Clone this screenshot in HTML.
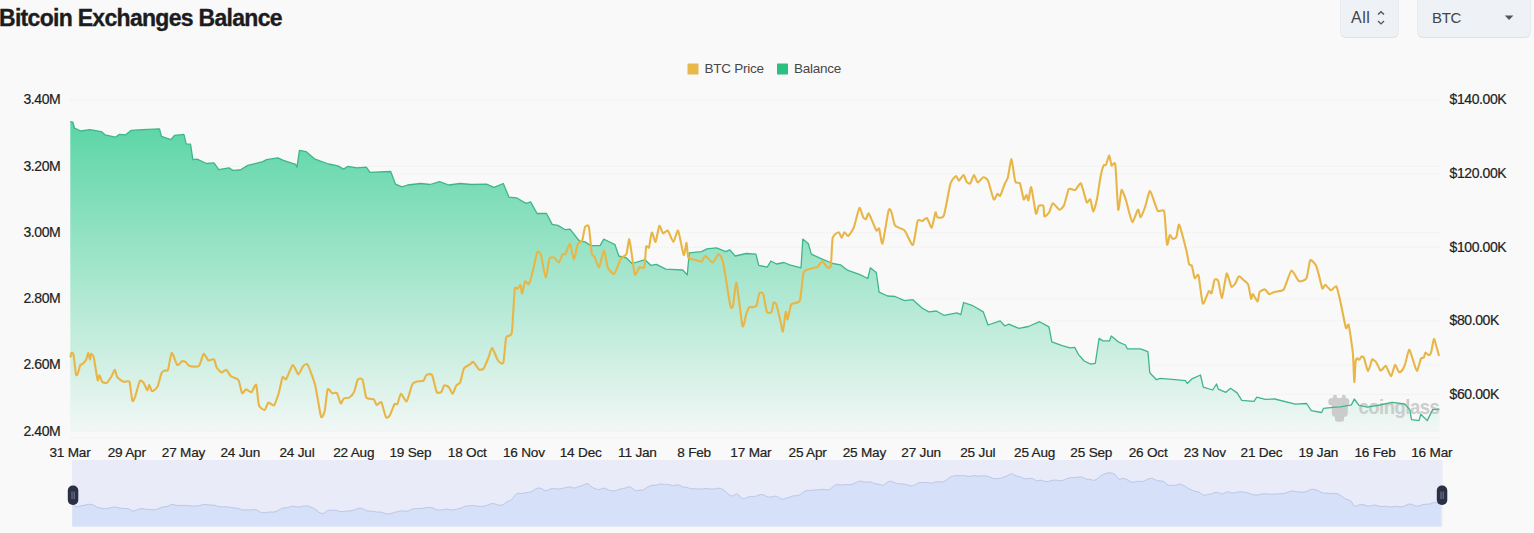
<!DOCTYPE html>
<html><head><meta charset="utf-8">
<style>
html,body{margin:0;padding:0;}
body{width:1534px;height:533px;overflow:hidden;background:#f9f9f9;position:relative;font-family:"Liberation Sans",sans-serif;}
.title{position:absolute;left:-1px;top:5px;font-weight:bold;font-size:23px;letter-spacing:-0.7px;color:#1c1c1e;white-space:nowrap;-webkit-text-stroke:0.35px #1c1c1e;}
.btn{position:absolute;top:-6px;height:43px;background:#eef1f5;border-radius:5px;box-shadow:0 1px 1px rgba(0,0,0,0.05),0 0 0 1px #eaecef;}
.btn span{position:absolute;font-size:16px;color:#444;}
svg{position:absolute;left:0;top:0;font-family:"Liberation Sans",sans-serif;}
.ax text{font-size:14px;letter-spacing:-0.4px;fill:#222;stroke:#222;stroke-width:0.2px;}
.xl text{font-size:13.6px;letter-spacing:-0.2px;fill:#222;stroke:#222;stroke-width:0.2px;text-anchor:middle;}
.lg text{font-size:13.5px;letter-spacing:-0.25px;fill:#474747;}
</style></head>
<body>
<div class="title">Bitcoin Exchanges Balance</div>
<div class="btn" style="left:1341px;width:57px;"><span style="left:10px;top:15px;letter-spacing:0.5px;">All</span>
<svg style="left:35px;top:16px;" width="10" height="16" viewBox="0 0 10 16"><path d="M2,4.6 L5,1.7 L8,4.6 M2,11 L5,13.9 L8,11" fill="none" stroke="#555" stroke-width="1.4"/></svg></div>
<div class="btn" style="left:1418px;width:112px;"><span style="left:14px;top:15px;font-size:15px;letter-spacing:-0.3px;">BTC</span>
<svg style="left:86px;top:21px;" width="10" height="6" viewBox="0 0 10 6"><path d="M0.8,0.6 L9.4,0.6 L5.1,5 Z" fill="#555"/></svg></div>
<svg width="1534" height="533" viewBox="0 0 1534 533" style="top:0">
<defs>
<linearGradient id="g1" x1="0" y1="121" x2="0" y2="431.5" gradientUnits="userSpaceOnUse">
<stop offset="0" stop-color="#5ad5a6"/>
<stop offset="1" stop-color="#f2f7f5"/>
</linearGradient>
</defs>
<g stroke="#f0f0f0" stroke-width="1" stroke-dasharray="2,1">
<line x1="70" y1="100.0" x2="1440" y2="100.0" />
<line x1="70" y1="166.3" x2="1440" y2="166.3" />
<line x1="70" y1="232.6" x2="1440" y2="232.6" />
<line x1="70" y1="298.9" x2="1440" y2="298.9" />
<line x1="70" y1="365.2" x2="1440" y2="365.2" />
<line x1="70" y1="173.6" x2="1440" y2="173.6" />
<line x1="70" y1="247.2" x2="1440" y2="247.2" />
<line x1="70" y1="320.8" x2="1440" y2="320.8" />
<line x1="70" y1="394.4" x2="1440" y2="394.4" />
<line x1="70" y1="431.5" x2="1440" y2="431.5" />
<line x1="70" y1="438" x2="1440" y2="438" />
</g>
<path d="M70.3,121.6 L72.8,122.2 L74.6,128.2 L80.7,131.0 L90.0,129.7 L101.3,131.6 L105.0,134.8 L115.4,137.2 L119.1,134.4 L125.7,134.8 L131.3,130.3 L142.6,129.7 L159.5,128.8 L161.4,136.3 L170.8,139.6 L174.5,135.3 L183.9,134.4 L186.2,143.8 L190.5,144.2 L192.9,159.7 L197.1,159.2 L206.5,163.5 L214.0,162.9 L218.7,169.7 L229.0,167.8 L232.7,170.4 L240.2,170.0 L247.8,165.4 L262.8,161.6 L266.5,159.7 L277.8,157.8 L283.4,160.3 L295.6,164.4 L297.0,167.2 L299.4,150.3 L306.0,151.6 L314.4,158.8 L328.5,164.0 L337.9,165.9 L343.5,169.1 L348.0,166.3 L356.9,167.8 L366.3,167.2 L370.0,172.3 L390.7,171.5 L395.4,184.1 L402.0,186.9 L407.6,185.0 L420.7,183.5 L430.1,184.5 L439.5,181.7 L448.9,185.0 L460.2,183.5 L471.4,184.5 L486.5,184.1 L494.0,187.3 L503.3,183.5 L509.0,197.2 L516.5,197.8 L525.9,203.4 L530.6,201.9 L537.1,213.5 L546.5,213.5 L552.2,224.4 L557.8,225.4 L565.3,229.7 L570.0,229.1 L579.4,241.0 L585.0,241.9 L590.7,245.6 L600.0,245.6 L603.8,239.1 L607.6,241.0 L615.0,244.7 L618.8,256.0 L626.3,257.8 L632.0,263.5 L645.1,259.7 L650.7,265.3 L656.4,264.4 L665.8,269.1 L682.7,270.0 L687.3,274.7 L689.2,252.8 L701.4,251.7 L707.0,248.8 L716.5,247.9 L725.8,251.7 L729.6,249.8 L735.2,256.0 L746.5,253.5 L755.9,254.1 L758.7,265.3 L767.2,267.2 L770.9,261.0 L776.5,264.0 L784.0,262.5 L789.7,264.8 L801.0,267.8 L802.8,239.1 L808.4,243.8 L811.3,254.1 L821.6,258.8 L832.9,263.5 L840.4,264.8 L847.9,270.4 L859.4,274.4 L867.8,278.5 L870.3,267.8 L876.3,272.5 L879.1,292.2 L887.6,296.0 L895.1,296.5 L904.5,300.7 L912.9,299.7 L922.3,308.2 L928.9,311.9 L936.4,311.0 L943.9,315.3 L957.0,312.9 L960.8,314.7 L963.6,302.5 L972.0,305.3 L983.3,311.9 L988.0,325.0 L1000.2,320.9 L1004.9,326.0 L1008.7,324.1 L1019.0,328.4 L1028.4,326.5 L1039.6,321.7 L1049.0,326.9 L1051.8,341.9 L1062.2,345.7 L1070.0,347.8 L1074.7,347.3 L1078.4,354.4 L1084.1,361.0 L1090.7,364.1 L1095.3,363.4 L1099.1,338.4 L1102.9,340.9 L1109.4,340.9 L1111.3,336.0 L1118.8,342.2 L1125.4,345.0 L1127.3,348.8 L1140.4,348.8 L1147.9,351.6 L1149.8,372.8 L1156.4,379.7 L1160.1,378.4 L1175.1,379.7 L1185.5,380.7 L1187.3,383.5 L1192.0,378.8 L1200.5,375.0 L1203.3,387.2 L1212.7,390.0 L1216.5,384.0 L1218.3,389.1 L1225.8,392.3 L1230.5,388.2 L1237.1,392.9 L1241.8,400.4 L1254.0,401.3 L1256.8,397.2 L1265.3,399.4 L1274.7,399.0 L1295.3,404.1 L1306.6,403.5 L1311.3,410.7 L1321.6,412.5 L1323.5,408.4 L1332.9,407.3 L1340.4,406.9 L1351.4,404.9 L1354.3,399.0 L1359.0,405.3 L1367.5,407.2 L1380.0,405.0 L1392.0,402.4 L1404.7,404.0 L1409.8,409.6 L1411.5,419.7 L1419.0,420.6 L1420.8,414.2 L1427.2,420.6 L1432.7,409.6 L1439.5,409.2 L1439.5,431.5 L70.3,431.5 Z" fill="url(#g1)"/>
<g fill="#c6c6c6" opacity="0.85">
<rect x="1333" y="394.8" width="4" height="6" rx="2"/>
<rect x="1341.8" y="394.8" width="4" height="6" rx="2"/>
<rect x="1328.3" y="398" width="21" height="7.5" rx="3.5"/>
<rect x="1331.8" y="403" width="16" height="14" rx="4"/>
<rect x="1335" y="414" width="9" height="7.8" rx="2.5"/>
<text x="1358.5" y="414.2" font-size="18.5" font-weight="bold" letter-spacing="-0.5" transform="translate(0,-52) scale(1,1.125)">coinglass</text>
</g>
<path d="M70.3,121.6 L72.8,122.2 L74.6,128.2 L80.7,131.0 L90.0,129.7 L101.3,131.6 L105.0,134.8 L115.4,137.2 L119.1,134.4 L125.7,134.8 L131.3,130.3 L142.6,129.7 L159.5,128.8 L161.4,136.3 L170.8,139.6 L174.5,135.3 L183.9,134.4 L186.2,143.8 L190.5,144.2 L192.9,159.7 L197.1,159.2 L206.5,163.5 L214.0,162.9 L218.7,169.7 L229.0,167.8 L232.7,170.4 L240.2,170.0 L247.8,165.4 L262.8,161.6 L266.5,159.7 L277.8,157.8 L283.4,160.3 L295.6,164.4 L297.0,167.2 L299.4,150.3 L306.0,151.6 L314.4,158.8 L328.5,164.0 L337.9,165.9 L343.5,169.1 L348.0,166.3 L356.9,167.8 L366.3,167.2 L370.0,172.3 L390.7,171.5 L395.4,184.1 L402.0,186.9 L407.6,185.0 L420.7,183.5 L430.1,184.5 L439.5,181.7 L448.9,185.0 L460.2,183.5 L471.4,184.5 L486.5,184.1 L494.0,187.3 L503.3,183.5 L509.0,197.2 L516.5,197.8 L525.9,203.4 L530.6,201.9 L537.1,213.5 L546.5,213.5 L552.2,224.4 L557.8,225.4 L565.3,229.7 L570.0,229.1 L579.4,241.0 L585.0,241.9 L590.7,245.6 L600.0,245.6 L603.8,239.1 L607.6,241.0 L615.0,244.7 L618.8,256.0 L626.3,257.8 L632.0,263.5 L645.1,259.7 L650.7,265.3 L656.4,264.4 L665.8,269.1 L682.7,270.0 L687.3,274.7 L689.2,252.8 L701.4,251.7 L707.0,248.8 L716.5,247.9 L725.8,251.7 L729.6,249.8 L735.2,256.0 L746.5,253.5 L755.9,254.1 L758.7,265.3 L767.2,267.2 L770.9,261.0 L776.5,264.0 L784.0,262.5 L789.7,264.8 L801.0,267.8 L802.8,239.1 L808.4,243.8 L811.3,254.1 L821.6,258.8 L832.9,263.5 L840.4,264.8 L847.9,270.4 L859.4,274.4 L867.8,278.5 L870.3,267.8 L876.3,272.5 L879.1,292.2 L887.6,296.0 L895.1,296.5 L904.5,300.7 L912.9,299.7 L922.3,308.2 L928.9,311.9 L936.4,311.0 L943.9,315.3 L957.0,312.9 L960.8,314.7 L963.6,302.5 L972.0,305.3 L983.3,311.9 L988.0,325.0 L1000.2,320.9 L1004.9,326.0 L1008.7,324.1 L1019.0,328.4 L1028.4,326.5 L1039.6,321.7 L1049.0,326.9 L1051.8,341.9 L1062.2,345.7 L1070.0,347.8 L1074.7,347.3 L1078.4,354.4 L1084.1,361.0 L1090.7,364.1 L1095.3,363.4 L1099.1,338.4 L1102.9,340.9 L1109.4,340.9 L1111.3,336.0 L1118.8,342.2 L1125.4,345.0 L1127.3,348.8 L1140.4,348.8 L1147.9,351.6 L1149.8,372.8 L1156.4,379.7 L1160.1,378.4 L1175.1,379.7 L1185.5,380.7 L1187.3,383.5 L1192.0,378.8 L1200.5,375.0 L1203.3,387.2 L1212.7,390.0 L1216.5,384.0 L1218.3,389.1 L1225.8,392.3 L1230.5,388.2 L1237.1,392.9 L1241.8,400.4 L1254.0,401.3 L1256.8,397.2 L1265.3,399.4 L1274.7,399.0 L1295.3,404.1 L1306.6,403.5 L1311.3,410.7 L1321.6,412.5 L1323.5,408.4 L1332.9,407.3 L1340.4,406.9 L1351.4,404.9 L1354.3,399.0 L1359.0,405.3 L1367.5,407.2 L1380.0,405.0 L1392.0,402.4 L1404.7,404.0 L1409.8,409.6 L1411.5,419.7 L1419.0,420.6 L1420.8,414.2 L1427.2,420.6 L1432.7,409.6 L1439.5,409.2" fill="none" stroke="#3fb68a" stroke-width="1.3" stroke-linejoin="round"/>
<path d="M70.3,357.5C70.4,357.0 71.3,353.1 71.6,352.8C71.9,352.5 73.1,352.5 73.5,354.7C73.9,356.9 75.6,372.5 76.0,374.4C76.4,376.3 77.4,374.4 77.8,373.5C78.2,372.6 79.8,365.9 80.3,365.0C80.8,364.1 81.9,364.7 82.5,364.1C83.1,363.5 85.7,360.5 86.3,359.4C86.9,358.3 87.8,352.8 88.2,352.8C88.6,352.8 89.7,359.3 90.0,359.4C90.3,359.5 90.6,354.0 91.0,353.8C91.4,353.6 93.1,354.9 93.8,357.5C94.5,360.1 97.0,378.2 97.6,380.0C98.2,381.8 98.9,375.1 99.4,375.3C99.9,375.5 101.5,381.1 102.2,381.9C103.0,382.6 106.0,383.4 106.9,382.8C107.8,382.2 110.8,377.6 111.6,376.3C112.4,375.0 114.2,369.6 114.8,369.7C115.4,369.8 116.4,376.0 117.3,377.2C118.2,378.4 122.6,381.4 123.8,381.9C125.0,382.4 128.7,380.0 129.5,381.9C130.3,383.8 131.7,399.2 132.3,400.7C132.9,402.2 134.3,398.9 135.1,396.9C135.8,394.9 139.0,382.4 139.8,381.0C140.7,379.6 142.8,381.9 143.6,382.8C144.3,383.7 146.7,390.1 147.3,390.3C147.9,390.5 148.7,384.6 149.2,384.7C149.7,384.8 151.2,391.1 152.0,391.3C152.8,391.5 156.7,388.4 157.6,386.6C158.5,384.8 160.7,375.1 161.4,373.5C162.1,371.9 163.5,371.0 164.2,370.6C164.9,370.2 167.2,371.5 168.0,369.7C168.8,367.9 170.8,353.3 171.7,352.8C172.6,352.3 176.3,364.1 177.3,365.0C178.3,365.9 181.2,361.6 182.0,361.3C182.8,361.0 185.0,361.7 185.8,362.2C186.6,362.7 188.3,365.6 189.6,366.0C190.9,366.4 197.5,367.2 198.9,366.0C200.3,364.8 202.7,354.4 203.6,353.8C204.5,353.2 207.3,359.7 208.3,360.3C209.3,360.9 213.2,358.6 214.0,359.4C214.8,360.1 216.1,366.5 216.8,367.8C217.6,369.1 220.6,372.3 221.5,372.5C222.4,372.7 225.3,369.3 226.2,369.7C227.1,370.1 229.7,375.3 230.9,376.3C232.1,377.3 237.3,378.3 238.4,380.0C239.5,381.7 241.3,392.3 242.1,393.2C242.8,394.1 245.0,389.5 245.9,389.4C246.8,389.3 250.5,392.7 251.5,392.2C252.5,391.7 255.4,383.4 256.2,384.7C256.9,386.0 258.1,402.9 259.0,405.4C259.9,407.9 263.8,410.3 264.7,410.0C265.6,409.7 267.5,403.0 268.4,402.5C269.3,402.0 273.0,406.3 274.0,405.4C275.0,404.5 277.8,396.0 278.7,393.2C279.6,390.4 281.8,378.6 282.5,377.2C283.2,375.8 285.2,380.3 286.2,379.1C287.2,377.9 291.6,365.5 292.8,365.0C294.0,364.5 297.4,374.3 298.4,374.4C299.4,374.5 302.3,366.9 303.2,366.0C304.1,365.1 306.6,363.0 307.8,365.0C309.0,367.0 314.0,380.5 315.3,385.7C316.6,390.9 320.1,414.1 321.0,416.6C321.9,419.1 324.0,413.7 324.7,411.0C325.4,408.3 326.9,391.2 327.6,389.4C328.4,387.6 331.3,392.8 332.2,393.2C333.1,393.6 336.1,392.2 337.0,393.2C337.9,394.2 340.0,403.0 340.7,403.5C341.4,404.0 342.9,399.1 343.8,398.5C344.7,397.9 348.4,398.2 349.4,397.5C350.4,396.8 353.3,393.7 354.1,391.9C354.9,390.1 357.0,380.9 357.8,379.7C358.6,378.5 361.6,377.9 362.5,379.7C363.4,381.5 365.2,395.5 366.3,397.5C367.4,399.5 372.8,398.6 373.8,399.4C374.8,400.1 375.9,404.7 376.6,405.0C377.4,405.3 380.4,401.0 381.3,402.2C382.2,403.4 385.1,415.9 386.0,417.2C386.9,418.5 388.9,416.7 389.8,415.4C390.7,414.1 393.8,405.2 394.5,404.1C395.2,403.0 396.7,405.1 397.3,404.1C397.9,403.1 400.1,394.1 401.0,393.8C401.9,393.5 405.6,402.2 406.7,401.3C407.8,400.4 411.3,386.4 412.3,384.4C413.3,382.4 415.9,382.0 417.0,381.6C418.1,381.2 422.7,381.4 423.6,380.7C424.5,380.0 425.6,375.6 426.4,375.0C427.2,374.4 431.0,373.3 432.0,375.0C433.0,376.7 435.8,390.2 436.7,391.9C437.6,393.6 440.6,392.6 441.4,391.9C442.1,391.2 443.4,385.8 444.2,385.3C444.9,384.8 448.0,386.3 448.9,387.2C449.8,388.1 451.9,394.0 452.7,393.8C453.4,393.6 455.6,386.4 456.4,385.3C457.1,384.2 459.4,384.2 460.2,382.5C460.9,380.8 463.0,370.3 463.9,368.5C464.8,366.7 468.7,365.4 469.6,364.7C470.5,364.0 472.4,361.4 473.3,361.9C474.2,362.4 477.9,368.7 478.9,369.4C479.9,370.1 482.7,369.6 483.6,368.5C484.5,367.4 487.4,360.2 488.3,358.1C489.2,356.0 491.2,347.6 492.1,347.8C493.0,348.0 496.6,358.5 497.7,360.0C498.8,361.5 502.4,365.1 503.3,362.8C504.2,360.6 505.3,340.5 506.2,337.5C507.1,334.5 510.9,337.6 511.8,332.8C512.6,328.0 514.1,294.1 514.7,289.7C515.3,285.3 517.0,289.3 517.6,288.8C518.2,288.3 519.9,284.5 520.4,285.0C520.9,285.5 521.7,293.9 522.2,293.5C522.7,293.1 524.4,282.2 525.1,281.3C525.8,280.4 528.0,285.0 528.8,284.1C529.5,283.2 531.8,275.1 532.6,271.9C533.5,268.7 536.5,253.9 537.3,252.2C538.1,250.5 540.2,252.5 541.0,255.0C541.8,257.5 544.9,277.1 545.7,277.5C546.6,277.9 548.6,260.8 549.5,258.8C550.4,256.8 553.3,257.4 554.2,257.8C555.1,258.2 558.1,262.9 558.9,262.5C559.7,262.1 562.0,254.9 562.6,254.1C563.2,253.3 564.6,255.1 565.4,254.1C566.1,253.1 569.2,243.2 570.1,243.8C571.0,244.4 573.1,259.6 573.9,259.7C574.6,259.8 576.8,246.7 577.6,244.7C578.4,242.7 581.5,241.8 582.3,240.0C583.0,238.2 584.4,228.2 585.1,226.9C585.8,225.6 588.2,224.3 588.9,226.9C589.6,229.5 591.1,250.1 591.7,253.1C592.3,256.1 593.8,255.5 594.5,256.9C595.2,258.3 598.3,267.9 599.2,267.2C600.1,266.5 603.0,250.3 603.9,250.3C604.8,250.3 606.7,264.8 607.7,267.2C608.7,269.6 612.9,274.6 614.2,273.8C615.5,273.0 619.6,260.8 620.8,258.8C622.0,256.8 625.5,256.1 626.4,254.1C627.2,252.1 628.7,238.8 629.3,239.1C629.9,239.4 631.5,253.3 632.1,256.9C632.7,260.5 634.1,273.7 634.9,274.7C635.6,275.7 638.7,267.9 639.6,267.2C640.5,266.4 643.6,269.3 644.3,267.2C645.0,265.1 645.7,248.6 646.2,246.6C646.7,244.6 648.4,248.9 649.0,247.5C649.6,246.1 651.1,233.1 651.8,232.5C652.5,231.9 654.9,242.6 655.6,241.9C656.4,241.2 658.5,226.8 659.3,225.9C660.0,225.1 662.2,232.9 663.1,233.4C664.0,233.9 666.8,229.8 667.8,230.6C668.8,231.4 672.4,241.9 673.4,241.9C674.4,241.9 677.1,229.3 678.1,230.6C679.1,231.9 682.9,253.8 683.7,255.0C684.5,256.2 686.0,242.5 686.5,242.8C687.0,243.1 687.5,256.1 688.4,257.8C689.2,259.5 693.7,259.3 695.0,259.7C696.3,260.1 700.5,262.0 701.5,261.6C702.5,261.2 704.2,255.9 705.3,256.0C706.4,256.1 711.5,262.7 712.8,262.5C714.1,262.3 717.5,254.1 718.5,254.1C719.5,254.1 721.9,257.4 723.1,262.5C724.3,267.6 729.3,301.1 730.3,305.4C731.3,309.7 732.5,307.7 733.1,305.4C733.7,303.1 735.6,280.7 736.5,282.8C737.4,284.9 741.5,322.9 742.5,326.0C743.5,329.1 745.6,315.7 746.3,313.8C747.0,311.9 748.4,307.9 749.1,307.2C749.8,306.5 752.1,307.4 752.9,307.2C753.6,307.0 756.0,306.8 756.6,305.4C757.2,304.0 758.7,294.3 759.4,293.2C760.1,292.1 762.5,292.2 763.2,294.1C764.0,296.0 766.1,310.1 766.9,311.9C767.7,313.7 770.9,312.8 771.6,311.9C772.3,311.0 773.0,303.2 773.5,302.5C774.0,301.8 775.6,302.7 776.3,304.4C777.0,306.1 779.4,316.7 780.1,319.4C780.8,322.1 782.3,332.4 782.9,331.6C783.5,330.9 785.2,313.1 785.7,311.9C786.2,310.7 787.0,320.1 787.6,319.4C788.2,318.6 790.1,306.3 791.3,304.4C792.5,302.5 798.6,303.9 799.8,300.7C801.0,297.5 802.6,275.7 803.6,272.5C804.6,269.3 808.7,269.4 810.1,268.8C811.5,268.2 816.4,267.6 817.6,266.9C818.8,266.1 821.4,261.3 822.3,261.3C823.2,261.3 826.1,266.4 827.0,266.9C827.9,267.4 830.2,268.9 830.8,266.0C831.4,263.1 831.9,241.2 832.7,237.8C833.5,234.4 837.9,232.2 838.8,232.2C839.7,232.2 841.0,237.9 841.6,237.9C842.2,237.9 843.7,232.4 844.4,232.2C845.1,232.0 847.3,236.5 848.2,236.0C849.1,235.5 852.7,230.4 853.8,227.6C854.9,224.8 858.5,208.9 859.4,207.9C860.3,206.9 862.5,216.1 863.2,217.2C863.9,218.3 865.4,219.5 866.0,219.1C866.6,218.7 867.8,212.4 868.8,213.5C869.8,214.6 875.3,228.9 876.3,230.4C877.3,231.9 878.5,227.2 879.1,228.5C879.7,229.8 881.6,245.3 882.5,243.5C883.4,241.7 887.6,213.9 888.5,210.7C889.4,207.5 890.6,210.1 891.3,211.6C892.0,213.1 893.8,223.8 895.1,225.7C896.4,227.6 902.7,228.5 904.5,230.4C906.3,232.3 911.6,245.9 912.9,245.0C914.2,244.1 916.7,223.4 917.6,221.0C918.5,218.6 921.4,221.3 922.3,221.0C923.2,220.7 926.1,217.5 927.0,218.2C927.9,218.9 930.9,228.2 931.7,227.6C932.6,227.0 934.9,213.5 935.5,212.5C936.1,211.5 936.5,216.9 937.3,217.2C938.1,217.5 942.6,218.8 943.9,215.4C945.2,212.0 949.3,187.4 950.5,183.5C951.7,179.6 955.3,176.3 956.1,176.0C956.9,175.7 958.1,180.7 958.9,180.6C959.6,180.5 962.8,174.9 963.6,175.0C964.4,175.1 965.8,180.8 966.5,181.6C967.2,182.4 969.5,184.2 970.2,183.5C971.0,182.8 973.2,175.1 974.0,175.0C974.8,174.9 976.8,182.3 977.7,182.5C978.6,182.7 982.3,177.5 983.3,177.3C984.3,177.1 987.0,178.4 988.0,180.6C989.0,182.8 992.8,198.1 993.7,199.4C994.6,200.7 996.8,194.2 997.4,193.8C998.0,193.4 999.5,196.7 1000.2,195.7C1001.0,194.7 1004.1,185.3 1004.9,183.5C1005.7,181.7 1007.1,180.2 1007.8,177.8C1008.5,175.4 1010.8,158.7 1011.5,159.1C1012.2,159.5 1014.4,179.2 1015.3,181.6C1016.1,184.0 1019.2,181.7 1020.0,183.5C1020.8,185.3 1023.1,198.3 1023.7,199.4C1024.4,200.5 1026.0,194.6 1026.5,194.7C1027.0,194.8 1027.9,201.1 1028.4,200.3C1028.9,199.6 1030.5,185.9 1031.2,187.2C1032.0,188.5 1035.2,211.6 1035.9,213.5C1036.7,215.4 1038.0,206.8 1038.7,206.0C1039.5,205.2 1042.8,205.0 1043.4,206.0C1044.0,207.0 1043.8,215.7 1044.4,216.3C1045.0,217.0 1048.3,213.8 1049.1,212.5C1049.9,211.2 1051.8,203.5 1052.8,203.2C1053.8,202.9 1058.3,209.5 1059.4,209.7C1060.5,209.9 1063.2,207.1 1064.1,205.0C1065.0,202.9 1067.7,190.6 1068.8,189.1C1069.9,187.6 1074.1,190.6 1075.3,190.0C1076.5,189.4 1079.9,182.3 1081.0,183.5C1082.1,184.7 1085.7,200.6 1086.6,202.2C1087.5,203.8 1089.7,198.5 1090.4,199.4C1091.1,200.3 1092.5,211.6 1093.2,211.6C1093.9,211.6 1096.2,203.0 1096.9,199.4C1097.7,195.8 1100.0,179.4 1100.7,176.0C1101.4,172.6 1103.0,166.7 1103.5,165.6C1104.0,164.5 1105.4,165.7 1106.0,164.7C1106.6,163.7 1108.6,155.2 1109.2,155.3C1109.8,155.4 1111.0,164.7 1111.6,165.6C1112.2,166.5 1114.6,160.3 1115.3,164.7C1116.0,169.1 1117.6,207.2 1118.2,209.7C1118.8,212.2 1120.8,191.0 1121.5,190.0C1122.2,189.0 1124.6,196.2 1125.7,199.4C1126.8,202.6 1131.0,220.9 1132.2,221.9C1133.4,222.9 1137.1,210.2 1137.9,209.7C1138.8,209.2 1140.0,217.6 1140.7,217.2C1141.5,216.8 1144.5,208.6 1145.4,206.0C1146.3,203.4 1148.9,190.5 1150.1,191.0C1151.3,191.5 1156.2,208.6 1157.6,210.7C1159.0,212.8 1163.3,208.2 1164.2,211.6C1165.1,215.0 1166.4,242.1 1167.0,244.4C1167.6,246.8 1169.2,235.7 1169.8,235.1C1170.4,234.5 1171.9,238.6 1172.6,238.8C1173.3,239.0 1175.7,238.3 1176.4,236.9C1177.1,235.5 1178.2,223.4 1179.2,224.7C1180.2,226.0 1185.3,246.1 1186.3,250.0C1187.3,253.9 1188.5,262.5 1189.1,264.1C1189.7,265.7 1191.3,264.6 1191.9,266.0C1192.5,267.4 1194.0,277.3 1194.7,278.2C1195.4,279.1 1197.7,272.8 1198.5,275.3C1199.3,277.8 1201.8,301.9 1202.8,303.5C1203.8,305.1 1207.9,292.3 1208.8,291.3C1209.7,290.3 1211.0,294.3 1211.6,293.2C1212.2,292.1 1213.8,281.2 1214.5,280.0C1215.2,278.8 1217.5,279.2 1218.2,281.0C1219.0,282.8 1221.2,298.6 1222.0,297.9C1222.8,297.1 1225.8,274.6 1226.7,273.5C1227.6,272.4 1230.5,285.6 1231.3,286.6C1232.1,287.6 1234.3,284.8 1235.1,283.8C1235.9,282.8 1238.1,276.7 1238.9,276.3C1239.8,275.9 1242.7,279.2 1243.6,280.0C1244.5,280.8 1247.5,282.8 1248.2,284.7C1249.0,286.6 1250.6,297.9 1251.1,298.8C1251.6,299.7 1252.2,293.8 1252.9,294.1C1253.6,294.4 1256.9,301.8 1257.6,301.6C1258.3,301.4 1258.8,293.4 1259.5,292.2C1260.2,291.0 1264.2,289.2 1265.1,289.4C1266.0,289.6 1268.1,293.8 1268.9,294.1C1269.8,294.4 1272.7,292.5 1273.6,292.2C1274.5,291.9 1277.3,291.6 1278.3,291.3C1279.3,291.0 1282.6,291.5 1283.9,289.4C1285.2,287.3 1289.9,271.4 1291.4,270.6C1292.9,269.8 1297.4,280.2 1298.9,281.0C1300.4,281.8 1305.4,280.3 1306.5,278.2C1307.6,276.1 1309.3,261.6 1310.2,260.3C1311.1,259.0 1315.0,263.6 1315.8,265.0C1316.6,266.4 1318.0,272.0 1318.7,274.4C1319.4,276.8 1321.8,287.5 1322.4,288.5C1323.1,289.5 1324.4,284.5 1325.2,284.7C1326.0,284.9 1329.8,290.1 1330.9,290.3C1332.0,290.5 1335.5,285.1 1336.5,286.6C1337.5,288.1 1340.3,301.3 1341.2,305.4C1342.1,309.5 1345.2,325.9 1345.9,327.9C1346.7,329.9 1348.0,322.5 1348.7,325.0C1349.4,327.5 1352.2,346.8 1352.8,352.5C1353.4,358.2 1354.0,380.9 1354.3,381.8C1354.6,382.7 1355.3,363.9 1355.6,361.5C1355.9,359.1 1357.0,358.4 1357.3,358.2C1357.6,358.0 1358.5,360.0 1359.0,359.8C1359.5,359.6 1361.3,356.7 1361.8,356.5C1362.3,356.3 1363.5,356.7 1364.1,358.2C1364.7,359.7 1367.2,370.9 1368.0,371.1C1368.8,371.3 1371.4,360.9 1372.0,359.8C1372.6,358.7 1373.8,360.1 1374.2,360.4C1374.7,360.7 1375.9,361.7 1376.5,362.7C1377.1,363.7 1379.8,369.9 1380.4,370.5C1381.0,371.1 1382.1,369.3 1382.7,368.9C1383.3,368.4 1385.2,365.3 1386.0,366.0C1386.8,366.7 1390.2,376.3 1391.1,376.2C1392.0,376.1 1394.2,365.3 1395.0,364.9C1395.8,364.5 1398.3,371.7 1399.0,372.2C1399.7,372.7 1401.8,370.8 1402.4,370.0C1403.0,369.2 1404.5,365.8 1405.2,363.8C1405.9,361.8 1408.3,350.0 1409.1,349.7C1409.9,349.4 1412.3,358.3 1413.1,360.4C1413.9,362.5 1416.2,371.3 1417.0,371.1C1417.8,370.9 1420.2,360.1 1420.9,358.7C1421.6,357.3 1423.3,358.2 1423.8,357.6C1424.3,357.0 1425.0,352.7 1425.5,352.5C1426.0,352.3 1428.2,355.3 1428.8,355.3C1429.4,355.3 1430.6,354.1 1431.1,352.5C1431.6,350.9 1433.3,339.5 1433.9,339.0C1434.5,338.5 1436.2,345.8 1436.7,347.5C1437.2,349.2 1438.8,355.1 1439.0,355.9" fill="none" stroke="#e8b547" stroke-width="2.1" stroke-linejoin="round"/>
<g class="ax">
<text x="60.4" y="104.2" text-anchor="end">3.40M</text>
<text x="60.4" y="170.5" text-anchor="end">3.20M</text>
<text x="60.4" y="236.8" text-anchor="end">3.00M</text>
<text x="60.4" y="303.1" text-anchor="end">2.80M</text>
<text x="60.4" y="369.4" text-anchor="end">2.60M</text>
<text x="60.4" y="435.7" text-anchor="end">2.40M</text>
<text x="1449.5" y="104.3">$140.00K</text>
<text x="1449.5" y="177.9">$120.00K</text>
<text x="1449.5" y="251.5">$100.00K</text>
<text x="1449.5" y="325.1">$80.00K</text>
<text x="1449.5" y="398.7">$60.00K</text>
</g>
<g class="xl">
<text x="70.0" y="457">31 Mar</text>
<text x="126.7" y="457">29 Apr</text>
<text x="183.5" y="457">27 May</text>
<text x="240.2" y="457">24 Jun</text>
<text x="297.0" y="457">24 Jul</text>
<text x="353.7" y="457">22 Aug</text>
<text x="410.4" y="457">19 Sep</text>
<text x="467.2" y="457">18 Oct</text>
<text x="523.9" y="457">16 Nov</text>
<text x="580.7" y="457">14 Dec</text>
<text x="637.4" y="457">11 Jan</text>
<text x="694.1" y="457">8 Feb</text>
<text x="750.9" y="457">17 Mar</text>
<text x="807.6" y="457">25 Apr</text>
<text x="864.4" y="457">25 May</text>
<text x="921.1" y="457">27 Jun</text>
<text x="977.8" y="457">25 Jul</text>
<text x="1034.6" y="457">25 Aug</text>
<text x="1091.3" y="457">25 Sep</text>
<text x="1148.1" y="457">26 Oct</text>
<text x="1204.8" y="457">23 Nov</text>
<text x="1261.5" y="457">21 Dec</text>
<text x="1318.3" y="457">19 Jan</text>
<text x="1375.0" y="457">16 Feb</text>
<text x="1431.8" y="457">16 Mar</text>
</g>
<g class="lg">
<rect x="687.5" y="63.5" width="11" height="11" rx="0.6" fill="#e9b84a"/>
<text x="704.5" y="72.7">BTC Price</text>
<rect x="777" y="63.5" width="11" height="11" rx="0.6" fill="#2dbf7f"/>
<text x="794" y="72.7">Balance</text>
</g>
<rect x="72" y="460.0" width="1370.5" height="66.5" fill="#e9ecf8"/>
<path d="M72.3,504.4 L74.3,505.4 L76.3,506.7 L78.3,506.7 L80.3,506.0 L82.3,505.6 L84.3,505.3 L86.3,504.8 L88.3,504.3 L90.3,504.4 L92.3,504.6 L94.3,505.4 L96.3,506.7 L98.3,507.7 L100.3,508.0 L102.3,508.4 L104.3,508.6 L106.3,508.6 L108.3,508.3 L110.3,507.9 L112.3,507.4 L114.3,507.0 L116.3,507.3 L118.3,507.8 L120.3,508.1 L122.3,508.3 L124.3,508.5 L126.3,508.5 L128.3,508.7 L130.3,509.7 L132.3,510.9 L134.3,511.0 L136.3,510.2 L138.3,509.3 L140.3,508.7 L142.3,508.6 L144.3,509.0 L146.3,509.4 L148.3,509.4 L150.3,509.5 L152.3,509.8 L154.3,509.7 L156.3,509.4 L158.3,508.8 L160.3,507.9 L162.3,507.1 L164.3,506.8 L166.3,506.6 L168.3,506.0 L170.3,505.0 L172.3,504.4 L174.3,504.8 L176.3,505.3 L178.3,505.6 L180.3,505.4 L182.3,505.3 L184.3,505.3 L186.3,505.5 L188.3,505.7 L190.3,505.9 L192.3,506.0 L194.3,506.0 L196.3,506.0 L198.3,505.8 L200.3,505.3 L202.3,504.7 L204.3,504.4 L206.3,504.6 L208.3,504.9 L210.4,505.0 L212.4,505.0 L214.4,505.3 L216.4,505.9 L218.4,506.5 L220.4,506.8 L222.4,506.9 L224.4,506.8 L226.4,506.7 L228.4,507.0 L230.4,507.4 L232.4,507.7 L234.4,507.9 L236.4,508.1 L238.4,508.4 L240.4,509.3 L242.4,510.0 L244.4,510.0 L246.4,509.9 L248.4,509.9 L250.4,510.0 L252.4,509.9 L254.4,509.5 L256.4,509.8 L258.4,511.1 L260.4,512.3 L262.4,512.7 L264.4,512.8 L266.4,512.5 L268.4,512.1 L270.4,512.0 L272.4,512.1 L274.4,512.0 L276.4,511.3 L278.4,510.4 L280.4,509.2 L282.4,508.2 L284.4,507.9 L286.4,507.8 L288.4,507.4 L290.4,506.7 L292.4,506.2 L294.4,506.3 L296.4,506.8 L298.4,507.0 L300.4,506.8 L302.4,506.3 L304.4,506.0 L306.4,505.9 L308.4,506.2 L310.4,506.9 L312.4,507.8 L314.4,508.8 L316.4,510.1 L318.4,511.8 L320.4,513.1 L322.4,513.6 L324.4,512.9 L326.4,511.4 L328.4,510.3 L330.4,510.1 L332.4,510.3 L334.4,510.3 L336.4,510.5 L338.4,511.0 L340.4,511.5 L342.4,511.5 L344.4,511.3 L346.4,511.1 L348.4,511.0 L350.4,510.8 L352.4,510.5 L354.4,509.9 L356.4,509.0 L358.4,508.4 L360.4,508.2 L362.4,508.5 L364.4,509.6 L366.4,510.7 L368.4,511.1 L370.4,511.2 L372.4,511.3 L374.4,511.6 L376.4,512.0 L378.4,512.1 L380.4,512.0 L382.4,512.5 L384.4,513.3 L386.4,513.9 L388.4,514.0 L390.4,513.6 L392.4,513.0 L394.4,512.4 L396.4,512.0 L398.4,511.5 L400.4,511.0 L402.4,510.8 L404.4,511.1 L406.4,511.3 L408.4,510.8 L410.4,509.9 L412.4,509.1 L414.4,508.7 L416.4,508.6 L418.4,508.5 L420.4,508.4 L422.4,508.3 L424.4,508.0 L426.4,507.6 L428.4,507.4 L430.4,507.5 L432.4,507.8 L434.4,508.7 L436.4,509.7 L438.4,510.1 L440.4,510.1 L442.4,509.7 L444.4,509.3 L446.4,509.2 L448.4,509.4 L450.4,509.8 L452.4,510.1 L454.4,509.8 L456.4,509.2 L458.4,508.8 L460.4,508.3 L462.4,507.4 L464.4,506.5 L466.4,506.1 L468.4,505.9 L470.4,505.7 L472.4,505.5 L474.4,505.6 L476.4,506.0 L478.4,506.3 L480.4,506.4 L482.4,506.4 L484.5,506.0 L486.5,505.4 L488.5,504.7 L490.5,503.9 L492.5,503.5 L494.5,503.8 L496.5,504.5 L498.5,505.0 L500.5,505.2 L502.5,505.0 L504.5,503.7 L506.5,502.0 L508.5,501.1 L510.5,500.5 L512.5,498.6 L514.5,495.6 L516.5,493.8 L518.5,493.3 L520.5,493.4 L522.5,493.6 L524.5,493.1 L526.5,492.6 L528.5,492.5 L530.5,491.9 L532.5,490.9 L534.5,489.7 L536.5,488.5 L538.5,488.0 L540.5,488.2 L542.5,489.2 L544.5,490.4 L546.5,490.7 L548.5,489.8 L550.5,488.9 L552.5,488.6 L554.5,488.7 L556.5,488.9 L558.5,489.0 L560.5,488.7 L562.5,488.2 L564.5,487.9 L566.5,487.5 L568.5,487.0 L570.5,486.9 L572.5,487.6 L574.5,488.1 L576.5,487.4 L578.5,486.5 L580.5,486.0 L582.5,485.4 L584.5,484.4 L586.5,483.7 L588.5,484.1 L590.5,485.7 L592.5,487.5 L594.5,488.4 L596.5,489.0 L598.5,489.5 L600.5,489.2 L602.5,488.4 L604.5,488.1 L606.5,489.0 L608.5,490.0 L610.5,490.5 L612.5,490.8 L614.5,490.8 L616.5,490.4 L618.5,489.6 L620.5,489.0 L622.5,488.5 L624.5,488.2 L626.5,487.6 L628.5,486.8 L630.5,487.0 L632.5,488.6 L634.5,490.2 L636.5,490.7 L638.5,490.4 L640.5,490.1 L642.5,490.1 L644.5,489.2 L646.5,487.6 L648.5,486.6 L650.5,485.8 L652.5,485.1 L654.5,485.3 L656.5,485.1 L658.5,484.4 L660.5,484.0 L662.5,484.2 L664.5,484.4 L666.5,484.4 L668.5,484.5 L670.5,485.0 L672.5,485.5 L674.5,485.4 L676.5,484.9 L678.5,484.8 L680.5,485.7 L682.5,486.9 L684.5,487.2 L686.5,487.2 L688.5,487.9 L690.5,488.6 L692.5,488.7 L694.5,488.8 L696.5,488.9 L698.5,489.0 L700.5,489.0 L702.5,488.9 L704.5,488.6 L706.5,488.5 L708.5,488.7 L710.5,489.0 L712.5,489.1 L714.5,488.9 L716.5,488.5 L718.5,488.2 L720.5,488.5 L722.5,489.3 L724.5,490.6 L726.5,492.4 L728.5,494.3 L730.5,495.7 L732.5,495.9 L734.5,494.7 L736.5,493.8 L738.5,494.8 L740.5,497.0 L742.5,498.5 L744.5,498.5 L746.5,497.6 L748.5,496.9 L750.5,496.6 L752.5,496.5 L754.5,496.4 L756.5,496.0 L758.6,495.1 L760.6,494.5 L762.6,494.6 L764.6,495.4 L766.6,496.5 L768.6,497.1 L770.6,497.1 L772.6,496.6 L774.6,496.1 L776.6,496.3 L778.6,497.3 L780.6,498.6 L782.6,499.4 L784.6,498.8 L786.6,498.0 L788.6,497.6 L790.6,496.8 L792.6,496.1 L794.6,495.8 L796.6,495.7 L798.6,495.4 L800.6,494.4 L802.6,492.7 L804.6,491.2 L806.6,490.7 L808.6,490.5 L810.6,490.3 L812.6,490.2 L814.6,490.1 L816.6,490.0 L818.6,489.8 L820.6,489.5 L822.6,489.3 L824.6,489.5 L826.6,489.8 L828.6,489.9 L830.6,489.0 L832.6,486.9 L834.6,485.3 L836.6,484.8 L838.6,484.7 L840.6,484.9 L842.6,484.9 L844.6,484.7 L846.6,484.7 L848.6,484.8 L850.6,484.5 L852.6,484.0 L854.6,483.3 L856.6,482.3 L858.6,481.4 L860.6,481.1 L862.6,481.6 L864.6,482.0 L866.6,482.0 L868.6,481.8 L870.6,482.0 L872.6,482.7 L874.6,483.4 L876.6,483.9 L878.6,484.2 L880.6,484.8 L882.6,485.4 L884.6,484.6 L886.6,482.9 L888.6,481.6 L890.6,481.2 L892.6,481.8 L894.6,482.7 L896.6,483.4 L898.6,483.6 L900.6,483.8 L902.6,484.0 L904.6,484.2 L906.6,484.6 L908.6,485.2 L910.6,485.8 L912.6,485.9 L914.6,485.2 L916.6,483.8 L918.6,482.9 L920.6,482.6 L922.6,482.6 L924.6,482.4 L926.6,482.4 L928.6,482.7 L930.6,483.1 L932.6,483.0 L934.6,482.2 L936.6,481.8 L938.6,481.8 L940.6,481.9 L942.6,481.7 L944.6,481.1 L946.6,479.9 L948.6,478.3 L950.6,477.0 L952.6,476.2 L954.6,475.8 L956.6,475.6 L958.6,475.8 L960.6,475.8 L962.6,475.6 L964.6,475.7 L966.6,476.1 L968.6,476.4 L970.6,476.3 L972.6,475.9 L974.6,475.6 L976.6,475.9 L978.6,476.2 L980.6,476.0 L982.6,475.8 L984.6,475.8 L986.6,476.0 L988.6,476.5 L990.6,477.3 L992.6,478.3 L994.6,478.7 L996.6,478.6 L998.6,478.4 L1000.6,478.3 L1002.6,477.7 L1004.6,476.9 L1006.6,476.1 L1008.6,475.1 L1010.6,474.0 L1012.6,473.9 L1014.6,475.1 L1016.6,476.1 L1018.6,476.5 L1020.6,477.1 L1022.6,478.0 L1024.6,478.6 L1026.6,478.8 L1028.6,478.7 L1030.6,478.3 L1032.7,478.5 L1034.7,479.8 L1036.7,480.7 L1038.7,480.6 L1040.7,480.2 L1042.7,480.6 L1044.7,481.3 L1046.7,481.6 L1048.7,481.3 L1050.7,480.7 L1052.7,480.2 L1054.7,480.1 L1056.7,480.3 L1058.7,480.6 L1060.7,480.6 L1062.7,480.3 L1064.7,479.8 L1066.7,478.8 L1068.7,478.0 L1070.7,477.6 L1072.7,477.6 L1074.7,477.6 L1076.7,477.4 L1078.7,477.1 L1080.7,476.9 L1082.7,477.4 L1084.7,478.4 L1086.7,479.2 L1088.7,479.3 L1090.7,479.5 L1092.7,480.2 L1094.7,480.2 L1096.7,479.3 L1098.7,477.7 L1100.7,475.9 L1102.7,474.6 L1104.7,473.8 L1106.7,473.2 L1108.7,472.8 L1110.7,472.9 L1112.7,473.4 L1114.7,474.2 L1116.7,476.6 L1118.7,479.1 L1120.7,479.0 L1122.7,478.3 L1124.7,478.7 L1126.7,479.5 L1128.7,480.6 L1130.7,481.7 L1132.7,482.3 L1134.7,482.0 L1136.7,481.4 L1138.7,481.3 L1140.7,481.5 L1142.7,481.3 L1144.7,480.6 L1146.7,479.7 L1148.7,478.8 L1150.7,478.3 L1152.7,478.7 L1154.7,479.6 L1156.7,480.3 L1158.7,480.8 L1160.7,481.0 L1162.7,481.1 L1164.7,482.2 L1166.7,484.3 L1168.7,485.4 L1170.7,485.3 L1172.7,485.3 L1174.7,485.3 L1176.7,484.9 L1178.7,484.2 L1180.7,484.1 L1182.7,485.0 L1184.7,486.1 L1186.7,487.4 L1188.7,488.7 L1190.7,489.6 L1192.7,490.4 L1194.7,491.2 L1196.7,491.6 L1198.7,491.9 L1200.7,493.3 L1202.7,494.9 L1204.7,495.2 L1206.7,494.8 L1208.7,494.3 L1210.7,494.0 L1212.7,493.5 L1214.7,492.6 L1216.7,492.3 L1218.7,492.7 L1220.7,493.7 L1222.7,494.1 L1224.7,493.1 L1226.7,491.9 L1228.7,491.9 L1230.7,492.6 L1232.7,492.9 L1234.7,492.8 L1236.7,492.3 L1238.7,491.9 L1240.7,491.8 L1242.7,492.0 L1244.7,492.2 L1246.7,492.6 L1248.7,493.2 L1250.7,494.2 L1252.7,494.6 L1254.7,494.9 L1256.7,495.1 L1258.7,494.8 L1260.7,494.2 L1262.7,493.9 L1264.7,493.8 L1266.7,493.9 L1268.7,494.2 L1270.7,494.3 L1272.7,494.2 L1274.7,494.1 L1276.7,494.0 L1278.7,493.9 L1280.7,493.8 L1282.7,493.7 L1284.7,493.3 L1286.7,492.7 L1288.7,491.9 L1290.7,491.2 L1292.7,491.0 L1294.7,491.3 L1296.7,491.7 L1298.7,492.0 L1300.7,492.2 L1302.7,492.1 L1304.7,492.0 L1306.8,491.5 L1308.8,490.4 L1310.8,489.4 L1312.8,489.2 L1314.8,489.6 L1316.8,490.1 L1318.8,491.0 L1320.8,492.2 L1322.8,493.0 L1324.8,493.2 L1326.8,493.1 L1328.8,493.4 L1330.8,493.6 L1332.8,493.6 L1334.8,493.4 L1336.8,493.5 L1338.8,494.4 L1340.8,495.7 L1342.8,497.1 L1344.8,498.5 L1346.8,499.4 L1348.8,499.9 L1350.8,501.2 L1352.8,504.0 L1354.8,506.3 L1356.8,505.9 L1358.8,504.9 L1360.8,504.7 L1362.8,504.6 L1364.8,505.0 L1366.8,505.8 L1368.8,506.2 L1370.8,505.8 L1372.8,505.2 L1374.8,505.1 L1376.8,505.5 L1378.8,506.0 L1380.8,506.5 L1382.8,506.5 L1384.8,506.2 L1386.8,506.3 L1388.8,506.7 L1390.8,507.1 L1392.8,506.9 L1394.8,506.4 L1396.8,506.3 L1398.8,506.6 L1400.8,506.8 L1402.8,506.5 L1404.8,505.9 L1406.8,504.9 L1408.8,504.1 L1410.8,504.1 L1412.8,504.7 L1414.8,505.6 L1416.8,506.2 L1418.8,506.0 L1420.8,505.3 L1422.8,504.7 L1424.8,504.3 L1426.8,504.1 L1428.8,504.1 L1430.8,503.7 L1432.8,502.9 L1434.8,502.3 L1436.8,502.8 L1438.8,503.6 L1440.8,503.9 L1440.8,526.5 L72.3,526.5 Z" fill="#d6e0f8"/>
<path d="M72.3,504.4 L74.3,505.4 L76.3,506.7 L78.3,506.7 L80.3,506.0 L82.3,505.6 L84.3,505.3 L86.3,504.8 L88.3,504.3 L90.3,504.4 L92.3,504.6 L94.3,505.4 L96.3,506.7 L98.3,507.7 L100.3,508.0 L102.3,508.4 L104.3,508.6 L106.3,508.6 L108.3,508.3 L110.3,507.9 L112.3,507.4 L114.3,507.0 L116.3,507.3 L118.3,507.8 L120.3,508.1 L122.3,508.3 L124.3,508.5 L126.3,508.5 L128.3,508.7 L130.3,509.7 L132.3,510.9 L134.3,511.0 L136.3,510.2 L138.3,509.3 L140.3,508.7 L142.3,508.6 L144.3,509.0 L146.3,509.4 L148.3,509.4 L150.3,509.5 L152.3,509.8 L154.3,509.7 L156.3,509.4 L158.3,508.8 L160.3,507.9 L162.3,507.1 L164.3,506.8 L166.3,506.6 L168.3,506.0 L170.3,505.0 L172.3,504.4 L174.3,504.8 L176.3,505.3 L178.3,505.6 L180.3,505.4 L182.3,505.3 L184.3,505.3 L186.3,505.5 L188.3,505.7 L190.3,505.9 L192.3,506.0 L194.3,506.0 L196.3,506.0 L198.3,505.8 L200.3,505.3 L202.3,504.7 L204.3,504.4 L206.3,504.6 L208.3,504.9 L210.4,505.0 L212.4,505.0 L214.4,505.3 L216.4,505.9 L218.4,506.5 L220.4,506.8 L222.4,506.9 L224.4,506.8 L226.4,506.7 L228.4,507.0 L230.4,507.4 L232.4,507.7 L234.4,507.9 L236.4,508.1 L238.4,508.4 L240.4,509.3 L242.4,510.0 L244.4,510.0 L246.4,509.9 L248.4,509.9 L250.4,510.0 L252.4,509.9 L254.4,509.5 L256.4,509.8 L258.4,511.1 L260.4,512.3 L262.4,512.7 L264.4,512.8 L266.4,512.5 L268.4,512.1 L270.4,512.0 L272.4,512.1 L274.4,512.0 L276.4,511.3 L278.4,510.4 L280.4,509.2 L282.4,508.2 L284.4,507.9 L286.4,507.8 L288.4,507.4 L290.4,506.7 L292.4,506.2 L294.4,506.3 L296.4,506.8 L298.4,507.0 L300.4,506.8 L302.4,506.3 L304.4,506.0 L306.4,505.9 L308.4,506.2 L310.4,506.9 L312.4,507.8 L314.4,508.8 L316.4,510.1 L318.4,511.8 L320.4,513.1 L322.4,513.6 L324.4,512.9 L326.4,511.4 L328.4,510.3 L330.4,510.1 L332.4,510.3 L334.4,510.3 L336.4,510.5 L338.4,511.0 L340.4,511.5 L342.4,511.5 L344.4,511.3 L346.4,511.1 L348.4,511.0 L350.4,510.8 L352.4,510.5 L354.4,509.9 L356.4,509.0 L358.4,508.4 L360.4,508.2 L362.4,508.5 L364.4,509.6 L366.4,510.7 L368.4,511.1 L370.4,511.2 L372.4,511.3 L374.4,511.6 L376.4,512.0 L378.4,512.1 L380.4,512.0 L382.4,512.5 L384.4,513.3 L386.4,513.9 L388.4,514.0 L390.4,513.6 L392.4,513.0 L394.4,512.4 L396.4,512.0 L398.4,511.5 L400.4,511.0 L402.4,510.8 L404.4,511.1 L406.4,511.3 L408.4,510.8 L410.4,509.9 L412.4,509.1 L414.4,508.7 L416.4,508.6 L418.4,508.5 L420.4,508.4 L422.4,508.3 L424.4,508.0 L426.4,507.6 L428.4,507.4 L430.4,507.5 L432.4,507.8 L434.4,508.7 L436.4,509.7 L438.4,510.1 L440.4,510.1 L442.4,509.7 L444.4,509.3 L446.4,509.2 L448.4,509.4 L450.4,509.8 L452.4,510.1 L454.4,509.8 L456.4,509.2 L458.4,508.8 L460.4,508.3 L462.4,507.4 L464.4,506.5 L466.4,506.1 L468.4,505.9 L470.4,505.7 L472.4,505.5 L474.4,505.6 L476.4,506.0 L478.4,506.3 L480.4,506.4 L482.4,506.4 L484.5,506.0 L486.5,505.4 L488.5,504.7 L490.5,503.9 L492.5,503.5 L494.5,503.8 L496.5,504.5 L498.5,505.0 L500.5,505.2 L502.5,505.0 L504.5,503.7 L506.5,502.0 L508.5,501.1 L510.5,500.5 L512.5,498.6 L514.5,495.6 L516.5,493.8 L518.5,493.3 L520.5,493.4 L522.5,493.6 L524.5,493.1 L526.5,492.6 L528.5,492.5 L530.5,491.9 L532.5,490.9 L534.5,489.7 L536.5,488.5 L538.5,488.0 L540.5,488.2 L542.5,489.2 L544.5,490.4 L546.5,490.7 L548.5,489.8 L550.5,488.9 L552.5,488.6 L554.5,488.7 L556.5,488.9 L558.5,489.0 L560.5,488.7 L562.5,488.2 L564.5,487.9 L566.5,487.5 L568.5,487.0 L570.5,486.9 L572.5,487.6 L574.5,488.1 L576.5,487.4 L578.5,486.5 L580.5,486.0 L582.5,485.4 L584.5,484.4 L586.5,483.7 L588.5,484.1 L590.5,485.7 L592.5,487.5 L594.5,488.4 L596.5,489.0 L598.5,489.5 L600.5,489.2 L602.5,488.4 L604.5,488.1 L606.5,489.0 L608.5,490.0 L610.5,490.5 L612.5,490.8 L614.5,490.8 L616.5,490.4 L618.5,489.6 L620.5,489.0 L622.5,488.5 L624.5,488.2 L626.5,487.6 L628.5,486.8 L630.5,487.0 L632.5,488.6 L634.5,490.2 L636.5,490.7 L638.5,490.4 L640.5,490.1 L642.5,490.1 L644.5,489.2 L646.5,487.6 L648.5,486.6 L650.5,485.8 L652.5,485.1 L654.5,485.3 L656.5,485.1 L658.5,484.4 L660.5,484.0 L662.5,484.2 L664.5,484.4 L666.5,484.4 L668.5,484.5 L670.5,485.0 L672.5,485.5 L674.5,485.4 L676.5,484.9 L678.5,484.8 L680.5,485.7 L682.5,486.9 L684.5,487.2 L686.5,487.2 L688.5,487.9 L690.5,488.6 L692.5,488.7 L694.5,488.8 L696.5,488.9 L698.5,489.0 L700.5,489.0 L702.5,488.9 L704.5,488.6 L706.5,488.5 L708.5,488.7 L710.5,489.0 L712.5,489.1 L714.5,488.9 L716.5,488.5 L718.5,488.2 L720.5,488.5 L722.5,489.3 L724.5,490.6 L726.5,492.4 L728.5,494.3 L730.5,495.7 L732.5,495.9 L734.5,494.7 L736.5,493.8 L738.5,494.8 L740.5,497.0 L742.5,498.5 L744.5,498.5 L746.5,497.6 L748.5,496.9 L750.5,496.6 L752.5,496.5 L754.5,496.4 L756.5,496.0 L758.6,495.1 L760.6,494.5 L762.6,494.6 L764.6,495.4 L766.6,496.5 L768.6,497.1 L770.6,497.1 L772.6,496.6 L774.6,496.1 L776.6,496.3 L778.6,497.3 L780.6,498.6 L782.6,499.4 L784.6,498.8 L786.6,498.0 L788.6,497.6 L790.6,496.8 L792.6,496.1 L794.6,495.8 L796.6,495.7 L798.6,495.4 L800.6,494.4 L802.6,492.7 L804.6,491.2 L806.6,490.7 L808.6,490.5 L810.6,490.3 L812.6,490.2 L814.6,490.1 L816.6,490.0 L818.6,489.8 L820.6,489.5 L822.6,489.3 L824.6,489.5 L826.6,489.8 L828.6,489.9 L830.6,489.0 L832.6,486.9 L834.6,485.3 L836.6,484.8 L838.6,484.7 L840.6,484.9 L842.6,484.9 L844.6,484.7 L846.6,484.7 L848.6,484.8 L850.6,484.5 L852.6,484.0 L854.6,483.3 L856.6,482.3 L858.6,481.4 L860.6,481.1 L862.6,481.6 L864.6,482.0 L866.6,482.0 L868.6,481.8 L870.6,482.0 L872.6,482.7 L874.6,483.4 L876.6,483.9 L878.6,484.2 L880.6,484.8 L882.6,485.4 L884.6,484.6 L886.6,482.9 L888.6,481.6 L890.6,481.2 L892.6,481.8 L894.6,482.7 L896.6,483.4 L898.6,483.6 L900.6,483.8 L902.6,484.0 L904.6,484.2 L906.6,484.6 L908.6,485.2 L910.6,485.8 L912.6,485.9 L914.6,485.2 L916.6,483.8 L918.6,482.9 L920.6,482.6 L922.6,482.6 L924.6,482.4 L926.6,482.4 L928.6,482.7 L930.6,483.1 L932.6,483.0 L934.6,482.2 L936.6,481.8 L938.6,481.8 L940.6,481.9 L942.6,481.7 L944.6,481.1 L946.6,479.9 L948.6,478.3 L950.6,477.0 L952.6,476.2 L954.6,475.8 L956.6,475.6 L958.6,475.8 L960.6,475.8 L962.6,475.6 L964.6,475.7 L966.6,476.1 L968.6,476.4 L970.6,476.3 L972.6,475.9 L974.6,475.6 L976.6,475.9 L978.6,476.2 L980.6,476.0 L982.6,475.8 L984.6,475.8 L986.6,476.0 L988.6,476.5 L990.6,477.3 L992.6,478.3 L994.6,478.7 L996.6,478.6 L998.6,478.4 L1000.6,478.3 L1002.6,477.7 L1004.6,476.9 L1006.6,476.1 L1008.6,475.1 L1010.6,474.0 L1012.6,473.9 L1014.6,475.1 L1016.6,476.1 L1018.6,476.5 L1020.6,477.1 L1022.6,478.0 L1024.6,478.6 L1026.6,478.8 L1028.6,478.7 L1030.6,478.3 L1032.7,478.5 L1034.7,479.8 L1036.7,480.7 L1038.7,480.6 L1040.7,480.2 L1042.7,480.6 L1044.7,481.3 L1046.7,481.6 L1048.7,481.3 L1050.7,480.7 L1052.7,480.2 L1054.7,480.1 L1056.7,480.3 L1058.7,480.6 L1060.7,480.6 L1062.7,480.3 L1064.7,479.8 L1066.7,478.8 L1068.7,478.0 L1070.7,477.6 L1072.7,477.6 L1074.7,477.6 L1076.7,477.4 L1078.7,477.1 L1080.7,476.9 L1082.7,477.4 L1084.7,478.4 L1086.7,479.2 L1088.7,479.3 L1090.7,479.5 L1092.7,480.2 L1094.7,480.2 L1096.7,479.3 L1098.7,477.7 L1100.7,475.9 L1102.7,474.6 L1104.7,473.8 L1106.7,473.2 L1108.7,472.8 L1110.7,472.9 L1112.7,473.4 L1114.7,474.2 L1116.7,476.6 L1118.7,479.1 L1120.7,479.0 L1122.7,478.3 L1124.7,478.7 L1126.7,479.5 L1128.7,480.6 L1130.7,481.7 L1132.7,482.3 L1134.7,482.0 L1136.7,481.4 L1138.7,481.3 L1140.7,481.5 L1142.7,481.3 L1144.7,480.6 L1146.7,479.7 L1148.7,478.8 L1150.7,478.3 L1152.7,478.7 L1154.7,479.6 L1156.7,480.3 L1158.7,480.8 L1160.7,481.0 L1162.7,481.1 L1164.7,482.2 L1166.7,484.3 L1168.7,485.4 L1170.7,485.3 L1172.7,485.3 L1174.7,485.3 L1176.7,484.9 L1178.7,484.2 L1180.7,484.1 L1182.7,485.0 L1184.7,486.1 L1186.7,487.4 L1188.7,488.7 L1190.7,489.6 L1192.7,490.4 L1194.7,491.2 L1196.7,491.6 L1198.7,491.9 L1200.7,493.3 L1202.7,494.9 L1204.7,495.2 L1206.7,494.8 L1208.7,494.3 L1210.7,494.0 L1212.7,493.5 L1214.7,492.6 L1216.7,492.3 L1218.7,492.7 L1220.7,493.7 L1222.7,494.1 L1224.7,493.1 L1226.7,491.9 L1228.7,491.9 L1230.7,492.6 L1232.7,492.9 L1234.7,492.8 L1236.7,492.3 L1238.7,491.9 L1240.7,491.8 L1242.7,492.0 L1244.7,492.2 L1246.7,492.6 L1248.7,493.2 L1250.7,494.2 L1252.7,494.6 L1254.7,494.9 L1256.7,495.1 L1258.7,494.8 L1260.7,494.2 L1262.7,493.9 L1264.7,493.8 L1266.7,493.9 L1268.7,494.2 L1270.7,494.3 L1272.7,494.2 L1274.7,494.1 L1276.7,494.0 L1278.7,493.9 L1280.7,493.8 L1282.7,493.7 L1284.7,493.3 L1286.7,492.7 L1288.7,491.9 L1290.7,491.2 L1292.7,491.0 L1294.7,491.3 L1296.7,491.7 L1298.7,492.0 L1300.7,492.2 L1302.7,492.1 L1304.7,492.0 L1306.8,491.5 L1308.8,490.4 L1310.8,489.4 L1312.8,489.2 L1314.8,489.6 L1316.8,490.1 L1318.8,491.0 L1320.8,492.2 L1322.8,493.0 L1324.8,493.2 L1326.8,493.1 L1328.8,493.4 L1330.8,493.6 L1332.8,493.6 L1334.8,493.4 L1336.8,493.5 L1338.8,494.4 L1340.8,495.7 L1342.8,497.1 L1344.8,498.5 L1346.8,499.4 L1348.8,499.9 L1350.8,501.2 L1352.8,504.0 L1354.8,506.3 L1356.8,505.9 L1358.8,504.9 L1360.8,504.7 L1362.8,504.6 L1364.8,505.0 L1366.8,505.8 L1368.8,506.2 L1370.8,505.8 L1372.8,505.2 L1374.8,505.1 L1376.8,505.5 L1378.8,506.0 L1380.8,506.5 L1382.8,506.5 L1384.8,506.2 L1386.8,506.3 L1388.8,506.7 L1390.8,507.1 L1392.8,506.9 L1394.8,506.4 L1396.8,506.3 L1398.8,506.6 L1400.8,506.8 L1402.8,506.5 L1404.8,505.9 L1406.8,504.9 L1408.8,504.1 L1410.8,504.1 L1412.8,504.7 L1414.8,505.6 L1416.8,506.2 L1418.8,506.0 L1420.8,505.3 L1422.8,504.7 L1424.8,504.3 L1426.8,504.1 L1428.8,504.1 L1430.8,503.7 L1432.8,502.9 L1434.8,502.3 L1436.8,502.8 L1438.8,503.6 L1440.8,503.9" fill="none" stroke="#bac6e8" stroke-width="1"/>
<g>
<rect x="67.8" y="485.5" width="10.5" height="19.5" rx="5" fill="#2c3046"/>
<path d="M72,491.5 V499 M74.2,491.5 V499" stroke="#9a9db2" stroke-width="0.7"/>
<rect x="1436.8" y="485.5" width="10.5" height="19.5" rx="5" fill="#2c3046"/>
<path d="M1441,491.5 V499 M1443.2,491.5 V499" stroke="#9a9db2" stroke-width="0.7"/>
</g>
</svg>
</body></html>
